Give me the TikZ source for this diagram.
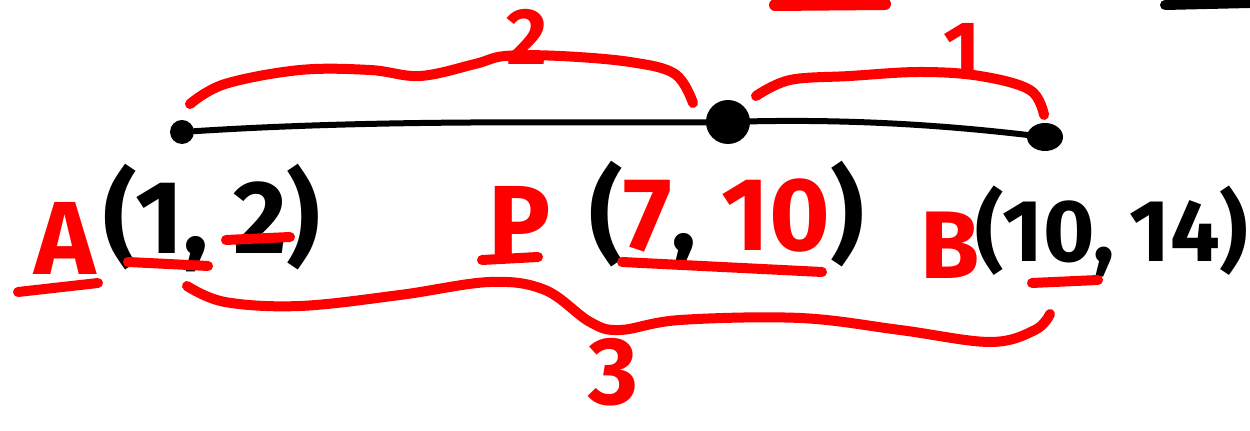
\documentclass[tikz,border=0pt]{standalone}
\usepackage{fontspec}
\usetikzlibrary{shapes.geometric}
\setmainfont{Fira Sans}
\definecolor{pen}{RGB}{255,0,0}
\begin{document}
\begin{tikzpicture}[x=0.5pt,y=-0.5pt,
  ink/.style={line width=5pt,line cap=round,line join=round},
  redink/.style={ink,draw=pen},
  dot/.style={circle,fill=black,inner sep=0pt},
  lbl/.style={font=\fontsize{52}{56}\selectfont\bfseries,inner sep=0pt,anchor=center},
  num/.style={font=\fontsize{40}{44}\selectfont\bfseries,text=pen,inner sep=0pt}]
\useasboundingbox (0,0) rectangle (1250,431);
% points
\node[dot,minimum size=12pt] (a) at (182,132) {};
\node[dot,minimum size=22pt] (p) at (728,122) {};
\node[ellipse,fill=black,inner sep=0pt,minimum width=18pt,minimum height=14pt] (b) at (1045,137) {};
\draw[ink,line width=3pt] (a) .. controls (400,118) and (600,124) .. (p.center)
  .. controls (850,118) and (950,126) .. (b);
% labels
\node[lbl,text=pen] (la) at (65,238) {A};
\node[lbl] (lac) at (212,218) {(1, 2)};
\node[lbl,text=pen] (lp) at (520,222) {P};
\node[lbl] (lpc) at (727,215) {(\textcolor{pen}{7}, \textcolor{pen}{10})};
\node[lbl,text=pen,font=\fontsize{48}{52}\selectfont\bfseries] (lb) at (950,245) {B};
\node[lbl,font=\fontsize{44}{48}\selectfont\bfseries] (lbc) at (1112,232) {(10,\,14)};
% underlines
\draw[redink] (18,292) -- (98,283);
\draw[redink] (128,262) -- (208,266);
\draw[redink] (226,240) -- (290,237);
\draw[redink] (482,260) -- (538,257);
\draw[redink] (622,262) -- (822,272);
\draw[redink] (1032,283) -- (1098,280);
% top strokes
\draw[redink,line width=6pt] (775,5) -- (885,4);
\draw[ink,line width=5pt] (1165,5) -- (1250,3);
% braces
\coordinate (b2s) at (190,104);
\coordinate (b2e) at (693,103);
\draw[redink] plot[smooth,tension=0.6] coordinates {(b2s) (225,84) (300,70) (370,70) (420,76) (475,64) (505,56) (560,56) (630,62) (675,74) (b2e)};
\coordinate (b1s) at (756,96);
\coordinate (b1e) at (1044,115);
\draw[redink] plot[smooth,tension=0.6] coordinates {(b1s) (790,80) (850,76) (920,72) (980,76) (1030,90) (b1e)};
\coordinate (b3s) at (187,286);
\coordinate (b3e) at (1050,314);
\draw[redink] plot[smooth,tension=0.6] coordinates {(b3s) (225,302) (300,306) (400,295) (490,282) (545,290) (590,322) (620,330) (680,320) (800,318) (900,330) (990,342) (1035,330) (b3e)};
\node[num] (n2) at (527,37) {2};
\node[num] (n1) at (962,50) {1};
\node[num,font=\fontsize{48}{52}\selectfont\bfseries] (n3) at (613,372) {3};
\end{tikzpicture}
\end{document}
